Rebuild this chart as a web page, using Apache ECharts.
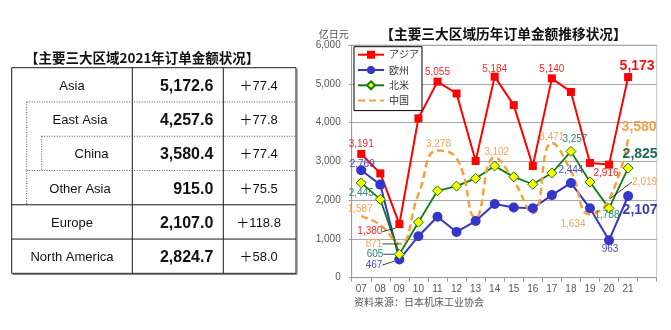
<!DOCTYPE html>
<html>
<head>
<meta charset="utf-8">
<script src="https://cdn.jsdelivr.net/npm/echarts@6/dist/echarts.min.js"></script>
<style>
  html, body { margin: 0; padding: 0; background: #fff; }
  #main { width: 671px; height: 330px; }
</style>
</head>
<body>
<div id="main"></div>
<script>
// Fiscal years on the category axis (2007–2021)
const years = ['07', '08', '09', '10', '11', '12', '13', '14', '15', '16', '17', '18', '19', '20', '21'];

// Machine tool orders by region, 100 million yen
const asiaOrders   = [3191, 2690, 1380, 4110, 5055, 4750, 3010, 5184, 4450, 2880, 5140, 4790, 2960, 2916, 5173];
const europeOrders = [2769, 2400,  467, 1070, 1570, 1180, 1460, 1900, 1810, 1790, 2130, 2444, 1790,  963, 2107];
const namOrders    = [2445, 2020,  605, 1430, 2240, 2360, 2560, 2880, 2600, 2410, 2700, 3257, 2470, 1788, 2825];
const chinaOrders  = [1587, 1360,  871, 2150, 3278, 3080, 1550, 3102, 2500, 1660, 3471, 2750, 1634, 2019, 3580];

const seriesNames = ['アジア', '欧州', '北米', '中国'];

// 2021 summary table
const tableRegions = ['Asia', 'East Asia', 'China', 'Other Asia', 'Europe', 'North America'];
const tableLevels  = [0, 1, 2, 1, 0, 0];
const tableValues  = [5172.6, 4257.6, 3580.4, 915.0, 2107.0, 2824.7];
const tableChanges = [77.4, 77.8, 77.4, 75.5, 118.8, 58.0];

const LATIN = '"Liberation Sans", Arial, "Noto Sans CJK SC", sans-serif';
const CJK = '"Noto Sans CJK SC", "Noto Sans CJK JP", sans-serif';

const fmtInt = v => Math.round(v).toLocaleString('en-US');
const fmtDec = v => v.toLocaleString('en-US', { minimumFractionDigits: 1, maximumFractionDigits: 1 });

// ---------- data labels: which points carry a value tag and where ----------
// "lead": label pulled away from its point by [dx, dy] (px from the point centre)
// and tied back to it with a thin guide line.
const asiaMarks = {
  0:  { position: 'top', distance: 1 },
  2:  { lead: [-17, 7.5] },
  4:  { position: 'top', distance: 0 },
  7:  { position: 'top', distance: -1.5 },
  10: { position: 'top', distance: 0 },
  13: { position: 'bottom', distance: 0, offset: [-3, 0] },
  14: { position: 'top', distance: -0.5, offset: [9, 0], big: true }
};
const europeMarks = {
  0:  { position: 'top', distance: -3.5, offset: [1, 0] },
  2:  { lead: [-17, 5.5] },
  11: { position: 'top', distance: 3 },
  13: { position: 'bottom', distance: -1, offset: [1, 0] },
  14: { position: 'bottom', distance: 2.5, offset: [12, 0], big: true }
};
const namMarks = {
  0:  { position: 'bottom', distance: 0 },
  2:  { lead: [-16, 0] },
  11: { position: 'top', distance: 1.5, offset: [4, 0] },
  13: { position: 'bottom', distance: -3.5, offset: [-2, 0] },
  14: { position: 'top', distance: 1, offset: [12, 0], big: true }
};
const chinaMarks = {
  0:  { position: 'top', distance: 0.5, offset: [-1, 0] },
  2:  { lead: [-17, 0] },
  4:  { position: 'top', distance: 0.5, offset: [1, 0] },
  7:  { position: 'top', distance: -1, offset: [2, 0] },
  10: { position: 'top', distance: 0 },
  12: { position: 'bottom', distance: 0, offset: [-17, 4] },
  13: { lead: [23, -17.5] },
  14: { position: 'top', distance: 4, offset: [11, 0], big: true }
};

function pointsWithLabels(values, marks, color, bigColor) {
  return values.map((v, i) => {
    const m = marks[i];
    if (!m) return v;
    const item = {
      value: v,
      label: {
        show: true,
        position: m.position || 'inside',
        distance: m.distance || 0,
        color: m.big ? bigColor : color,
        fontFamily: LATIN,
        fontSize: m.big ? 14 : 10,
        fontWeight: m.big ? 'bold' : 'normal',
        formatter: p => fmtInt(p.value)
      }
    };
    if (m.lead) {
      item.labelLine = { show: true, lineStyle: { color: '#111', width: 0.8 } };
    }
    return item;
  });
}

// Shifts each tagged label; pulled-away labels are placed relative to
// their own symbol's box so the guide line can be drawn back to it.
function labelShift(marks) {
  return params => {
    const m = marks[params.dataIndex];
    if (!m) return {};
    if (!m.lead) {
      const off = m.offset || [0, 0];
      return { dx: off[0], dy: off[1] };
    }
    const r = params.rect;
    const cx = r.x + r.width / 2;
    const cy = r.y + r.height / 2;
    return {
      x: cx + m.lead[0],
      y: cy + m.lead[1],
      align: m.lead[0] < 0 ? 'right' : 'left',
      verticalAlign: 'middle'
    };
  };
}

// ---------- summary table drawn with graphic elements ----------
const T = {
  left: 11.7, right: 296, top: 67.7, rowH: 34.27,
  col1: 132.3, col2: 223.3,
  indent: [11.7, 26.7, 41.7],
  nameCenter: [72, 80, 91.5]
};

function tableGraphics() {
  const els = [];
  const bottom = T.top + T.rowH * tableRegions.length;
  const solid = { stroke: '#1a1a1a', lineWidth: 1 };
  const dotted = { stroke: '#555', lineWidth: 1, lineDash: [1, 1.5] };

  els.push({
    type: 'text', left: 25, top: 51,
    style: { text: '【主要三大区域2021年订单金额状况】', font: 'bold 13.5px ' + CJK, fill: '#111' }
  });
  els.push({
    type: 'rect',
    shape: { x: T.left, y: T.top, width: T.right - T.left, height: bottom - T.top },
    style: { fill: '#fff', stroke: '#1a1a1a', lineWidth: 1 }
  });
  // slightly heavier right and bottom edges
  els.push({ type: 'line', shape: { x1: T.right + 1, y1: T.top + 1, x2: T.right + 1, y2: bottom + 1 }, style: { stroke: '#666', lineWidth: 1 } });
  els.push({ type: 'line', shape: { x1: T.left + 1, y1: bottom + 1, x2: T.right + 1, y2: bottom + 1 }, style: { stroke: '#666', lineWidth: 1 } });

  [T.col1, T.col2].forEach(x => {
    els.push({ type: 'line', shape: { x1: x, y1: T.top, x2: x, y2: bottom }, style: solid });
  });

  tableRegions.forEach((name, i) => {
    const lvl = tableLevels[i];
    const y0 = T.top + i * T.rowH;
    const cy = y0 + T.rowH / 2 + 1.5;
    if (i > 0) {
      els.push({
        type: 'line',
        shape: { x1: T.indent[lvl], y1: y0, x2: T.right, y2: y0 },
        style: lvl > 0 ? dotted : solid
      });
    }
    for (let k = 1; k <= lvl; k++) {
      els.push({ type: 'line', shape: { x1: T.indent[k], y1: y0, x2: T.indent[k], y2: y0 + T.rowH }, style: dotted });
    }
    els.push({
      type: 'text', x: T.nameCenter[lvl], y: cy,
      style: { text: name, font: '13px ' + LATIN, fill: '#111', align: 'center', verticalAlign: 'middle' }
    });
    els.push({
      type: 'text', x: T.col2 - 10, y: cy,
      style: { text: fmtDec(tableValues[i]), font: 'bold 16px ' + LATIN, fill: '#111', align: 'right', verticalAlign: 'middle' }
    });
    els.push({
      type: 'text', x: (T.col2 + T.right) / 2 - 1, y: cy,
      style: { text: '＋' + tableChanges[i].toFixed(1), font: '13px ' + LATIN, fill: '#111', align: 'center', verticalAlign: 'middle' }
    });
  });
  return els;
}

const chart = echarts.init(document.getElementById('main'), null, { renderer: 'canvas' });

const option = {
  animation: false,
  backgroundColor: '#fff',
  textStyle: { fontFamily: LATIN },
  graphic: tableGraphics().concat([
    {
      type: 'text', x: 503.5, y: 33.5,
      style: { text: '【主要三大区域历年订单金额推移状况】', font: 'bold 13.7px ' + CJK, fill: '#111', align: 'center', verticalAlign: 'middle' }
    },
    {
      type: 'text', x: 354, y: 302,
      style: { text: '资料来源：日本机床工业协会', font: '10px ' + CJK, fill: '#555', verticalAlign: 'middle' }
    }
  ]),
  grid: {
    left: 351.7, right: 14.3, top: 45, bottom: 52.3,
    show: true, borderColor: '#c4c4c4', borderWidth: 1,
    outerBoundsMode: 'none'
  },
  legend: {
    orient: 'vertical',
    left: 354, top: 46.7,
    padding: [3, 3, 5, 3],
    itemWidth: 26, itemHeight: 10, itemGap: 5.3,
    backgroundColor: '#fff',
    borderColor: '#000', borderWidth: 1, borderRadius: 0,
    textStyle: { fontSize: 10, color: '#333', fontFamily: CJK },
    data: seriesNames
  },
  xAxis: {
    type: 'category',
    data: years.concat(['']),
    boundaryGap: true,
    axisLine: { lineStyle: { color: '#999' } },
    axisTick: { show: true, interval: 0, length: 4, lineStyle: { color: '#999' } },
    axisLabel: { interval: 0, fontSize: 10, color: '#555', margin: 7 },
    splitLine: { show: false }
  },
  yAxis: {
    type: 'value',
    min: 0, max: 6000, interval: 1000,
    name: '亿日元',
    nameLocation: 'end',
    nameGap: 6,
    nameMoveOverlap: false,
    nameTextStyle: { fontSize: 10, color: '#555', align: 'right', fontFamily: CJK, padding: [0, 3, 0, 0] },
    axisLine: { show: true, lineStyle: { color: '#999' } },
    axisTick: { show: true, length: 3, lineStyle: { color: '#999' } },
    axisLabel: { fontSize: 10, color: '#555', margin: 11, formatter: v => fmtInt(v) },
    splitLine: { lineStyle: { color: '#a8a8a8', width: 1 } }
  },
  series: [
    {
      name: seriesNames[0], type: 'line',
      data: pointsWithLabels(asiaOrders, asiaMarks, '#f02828', '#f01414'),
      symbol: 'rect', symbolSize: 8, showAllSymbol: true,
      lineStyle: { color: '#ff0000', width: 2 },
      itemStyle: { color: '#ff0000' },
      label: { show: false },
      labelLayout: labelShift(asiaMarks)
    },
    {
      name: seriesNames[1], type: 'line',
      data: pointsWithLabels(europeOrders, europeMarks, '#4a4ac8', '#3a3ab8'),
      symbol: 'circle', symbolSize: 10, showAllSymbol: true,
      lineStyle: { color: '#3535c8', width: 2 },
      itemStyle: { color: '#3535c8' },
      label: { show: false },
      labelLayout: labelShift(europeMarks)
    },
    {
      name: seriesNames[2], type: 'line',
      data: pointsWithLabels(namOrders, namMarks, '#35846c', '#1f6b55'),
      symbol: 'diamond', symbolSize: 10, showAllSymbol: true,
      lineStyle: { color: '#117a11', width: 1.8 },
      itemStyle: { color: '#ffff00', borderColor: '#117a11', borderWidth: 1 },
      label: { show: false },
      labelLayout: labelShift(namMarks)
    },
    {
      name: seriesNames[3], type: 'line',
      data: pointsWithLabels(chinaOrders, chinaMarks, '#f4a55a', '#f0a04c'),
      smooth: 0.5,
      symbol: 'circle', symbolSize: 2, showAllSymbol: true,
      lineStyle: { color: '#f7a040', width: 2.5, type: [7, 4] },
      itemStyle: { color: 'rgba(0,0,0,0)', borderWidth: 0 },
      label: { show: false },
      labelLayout: labelShift(chinaMarks)
    }
  ]
};

chart.setOption(option);
</script>
</body>
</html>
